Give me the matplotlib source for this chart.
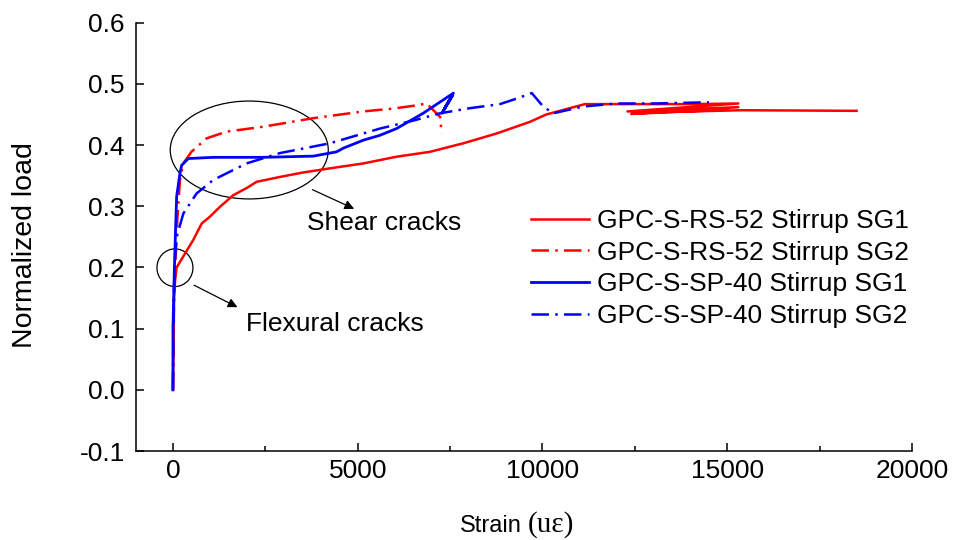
import matplotlib
matplotlib.use("Agg")
import matplotlib.pyplot as plt
from matplotlib.patches import Ellipse

plt.rcParams['font.family'] = ['Liberation Sans', 'DejaVu Sans']
plt.rcParams['font.size'] = 19
plt.rcParams['axes.unicode_minus'] = False

# GPC-S-RS-52 Stirrup SG1
rs_sg1_strain = [0, 20, 30, 60, 100, 250, 400, 550, 780, 1000, 1270, 1630, 2000, 2265,
                 2900, 3500, 4250, 5150, 6050, 6955, 7860, 8760, 9660, 10100, 11150,
                 12500, 14000, 15300, 12300, 15300, 12400, 15000, 12600, 15400, 18500]
rs_sg1_load = [0, 0.08, 0.15, 0.18, 0.20, 0.215, 0.23, 0.245, 0.272, 0.283, 0.299, 0.318,
               0.330, 0.340, 0.348, 0.355, 0.362, 0.370, 0.381, 0.389, 0.403, 0.419, 0.438,
               0.450, 0.467, 0.467, 0.467, 0.468, 0.455, 0.462, 0.451, 0.458, 0.453, 0.457, 0.456]

# GPC-S-RS-52 Stirrup SG2
rs_sg2_strain = [0, 20, 60, 120, 190, 280, 500, 910, 1450, 2440, 3800, 5150, 6000, 6600,
                 6860, 7050, 7230, 7270]
rs_sg2_load = [0, 0.12, 0.20, 0.28, 0.343, 0.370, 0.389, 0.411, 0.422, 0.430, 0.444, 0.455,
               0.460, 0.465, 0.468, 0.457, 0.446, 0.419]

# GPC-S-SP-40 Stirrup SG1
sp_sg1_strain = [0, 0, 40, 70, 100, 190, 235, 415, 1090, 2440, 3800, 4430, 4610, 5150, 5600,
                 6050, 6770, 7590, 7280, 7500, 7350, 7560]
sp_sg1_load = [0, 0.10, 0.20, 0.26, 0.316, 0.354, 0.367, 0.378, 0.380, 0.380, 0.382, 0.389,
               0.395, 0.408, 0.416, 0.427, 0.452, 0.485, 0.452, 0.475, 0.46, 0.48]

# GPC-S-SP-40 Stirrup SG2
sp_sg2_strain = [0, 20, 60, 100, 280, 640, 1090, 1990, 2900, 4250, 5600, 6500, 7230, 8000,
                 8850, 9300, 9710, 10020, 10290, 11100, 12000, 13000, 14500]
sp_sg2_load = [0, 0.15, 0.22, 0.25, 0.288, 0.321, 0.343, 0.370, 0.387, 0.403, 0.427, 0.440,
               0.452, 0.460, 0.467, 0.476, 0.485, 0.463, 0.452, 0.463, 0.468, 0.468, 0.470]

labels = ['GPC-S-RS-52 Stirrup SG1', 'GPC-S-RS-52 Stirrup SG2',
          'GPC-S-SP-40 Stirrup SG1', 'GPC-S-SP-40 Stirrup SG2']

dashdot = (0, (7, 2.5, 1, 2.5))

fig = plt.figure(figsize=(9.55, 5.4), dpi=100)
ax = fig.add_axes([0.1424, 0.1648, 0.8126, 0.7931])

ax.plot(rs_sg1_strain, rs_sg1_load, color='#ff0000', lw=1.8, label=labels[0])
ax.plot(rs_sg2_strain, rs_sg2_load, color='#ff0000', lw=1.8, linestyle=dashdot, label=labels[1])
ax.plot(sp_sg1_strain, sp_sg1_load, color='#0000ff', lw=2.0, label=labels[2])
ax.plot(sp_sg2_strain, sp_sg2_load, color='#0000ff', lw=1.8, linestyle=dashdot, label=labels[3])

# crack annotations
ax.add_patch(Ellipse((2065, 0.392), 4276, 0.160, fill=False, ec='black', lw=0.9))
ax.add_patch(Ellipse((54, 0.1996), 974, 0.0616, fill=False, ec='black', lw=0.9))
ax.annotate('', xy=(4972, 0.294), xytext=(3708, 0.329),
            arrowprops=dict(arrowstyle='-|>', color='black', lw=0.9, mutation_scale=14))
ax.annotate('', xy=(1813, 0.133), xytext=(506, 0.173),
            arrowprops=dict(arrowstyle='-|>', color='black', lw=0.9, mutation_scale=14))
ax.text(3618, 0.2726, 'Shear cracks', ha='left', va='center')
ax.text(1976, 0.1075, 'Flexural cracks', ha='left', va='center')

ax.set_xlim(-1000, 20000)
ax.set_ylim(-0.1, 0.6)
ax.set_xticks([0, 5000, 10000, 15000, 20000])
ax.set_xticks([2500, 7500, 12500, 17500], minor=True)
ax.set_yticks([-0.1, 0.0, 0.1, 0.2, 0.3, 0.4, 0.5, 0.6])
ax.set_yticklabels(['%.1f' % v for v in [-0.1, 0.0, 0.1, 0.2, 0.3, 0.4, 0.5, 0.6]])
ax.tick_params(which='major', direction='in', length=6, width=1.1)
ax.tick_params(which='minor', direction='in', length=3.5, width=1.1)
ax.tick_params(axis='x', pad=6)
ax.tick_params(axis='y', pad=8)
for s in ['top', 'right']:
    ax.spines[s].set_visible(False)
for s in ['left', 'bottom']:
    ax.spines[s].set_linewidth(1.1)

ax.set_ylabel('Normalized load', va='center', fontsize=20.5)
ax.yaxis.set_label_coords(-0.143, 0.481)
ax.text(0.497, -0.1884, 'Strain', transform=ax.transAxes, ha='right', va='baseline',
        fontsize=17)
ax.text(0.5052, -0.1884, '(uε)', transform=ax.transAxes, ha='left', va='baseline',
        family='Liberation Serif', fontsize=21)

ax.legend(loc='upper left', bbox_to_anchor=(0.556, 0.613), bbox_transform=fig.transFigure,
          frameon=False, borderpad=0, borderaxespad=0, handlelength=2.2,
          handletextpad=0.3, labelspacing=0.29)

fig.savefig('out.png', dpi=100)
